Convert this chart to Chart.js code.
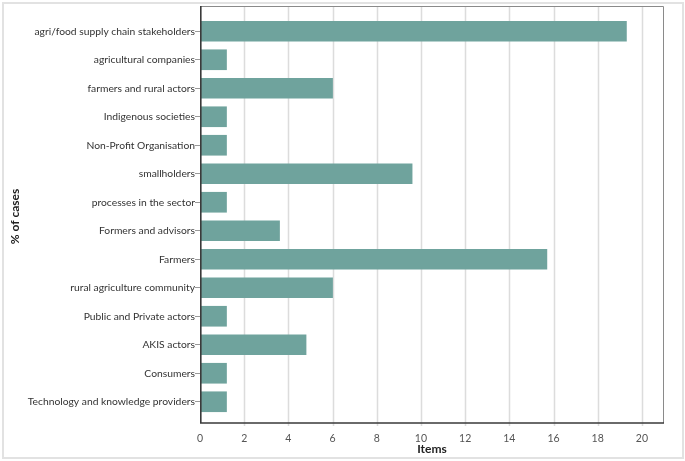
<!DOCTYPE html>
<html><head>
<meta charset="utf-8">
<script src="https://cdn.jsdelivr.net/npm/chart.js@4"></script>
<style>
html,body{margin:0;padding:0;background:#fff;}
#wrap{position:relative;width:685px;height:461px;}
#frame{position:absolute;left:2px;top:2px;width:678px;height:453px;border:2px solid #e2e2e2;box-sizing:content-box;pointer-events:none;}
canvas{position:absolute;left:0;top:0;}
</style>
</head><body>
<div id="wrap"><canvas id="c" width="685" height="461"></canvas><div id="frame"></div></div>
<script>
const categories = [
  "agri/food supply chain stakeholders",
  "agricultural companies",
  "farmers and rural actors",
  "Indigenous societies",
  "Non-Profit Organisation",
  "smallholders",
  "processes in the sector",
  "Formers and advisors",
  "Farmers",
  "rural agriculture community",
  "Public and Private actors",
  "AKIS actors",
  "Consumers",
  "Technology and knowledge providers"
];
const values = [19.3, 1.2, 6.0, 1.2, 1.2, 9.6, 1.2, 3.6, 15.7, 6.0, 1.2, 4.8, 1.2, 1.2];
const xTicks = [0, 2, 4, 6, 8, 10, 12, 14, 16, 18, 20];
const xMax = 21;
const xTitle = "Items";
const yTitle = "% of cases";

const FRAME_TOP_EXT = 11, FRAME_BOTTOM_EXT = 7;
const framePlugin = {
  id: 'framePlugin',
  beforeDatasetsDraw(chart) {
    const {ctx, chartArea: a, scales: {x}} = chart;
    const top = a.top - FRAME_TOP_EXT, bottom = a.bottom + FRAME_BOTTOM_EXT;
    ctx.save();
    ctx.strokeStyle = '#dcdcdc';
    ctx.lineWidth = 1.5;
    xTicks.forEach(v => {
      const px = Math.round(x.getPixelForValue(v)) + 0.5;
      if (v === 0) return;
      ctx.beginPath(); ctx.moveTo(px, top); ctx.lineTo(px, bottom + 3); ctx.stroke();
    });
    ctx.restore();
  },
  afterDatasetsDraw(chart) {
    const {ctx, chartArea: a} = chart;
    const top = a.top - FRAME_TOP_EXT, bottom = a.bottom + FRAME_BOTTOM_EXT;
    ctx.save();
    ctx.strokeStyle = '#8a8a8a';
    ctx.lineWidth = 1;
    ctx.beginPath();
    ctx.moveTo(a.left, top + 0.5); ctx.lineTo(a.right - 0.5, top + 0.5); ctx.lineTo(a.right - 0.5, bottom);
    ctx.stroke();
    ctx.strokeStyle = '#3a3a3a';
    ctx.lineWidth = 1.6;
    ctx.beginPath();
    ctx.moveTo(a.left + 0.8, top); ctx.lineTo(a.left + 0.8, bottom); ctx.lineTo(a.right, bottom);
    ctx.stroke();
    ctx.restore();
  }
};

new Chart(document.getElementById('c'), {
  type: 'bar',
  data: {
    labels: categories,
    datasets: [{
      data: values,
      backgroundColor: '#6fa39d',
      borderWidth: 0,
      barThickness: 20
    }]
  },
  options: {
    indexAxis: 'y',
    responsive: false,
    animation: false,
    devicePixelRatio: 1,
    layout: { padding: { left: 0, right: 21, top: 17, bottom: 0 } },
    plugins: { legend: { display: false }, tooltip: { enabled: false } },
    scales: {
      x: {
        type: 'linear',
        min: 0, max: xMax,
        afterBuildTicks(scale) { scale.ticks = xTicks.map(v => ({ value: v })); },
        afterFit(scale) { scale.height = 45; },
        grid: { display: false, drawTicks: false },
        border: { display: false },
        ticks: {
          padding: 16,
          color: '#555',
          font: { family: 'Lato', size: 10.5 },
          maxRotation: 0
        },
        title: {
          display: true, text: xTitle, color: '#222',
          font: { family: 'Lato', size: 12, weight: 'bold' },
          padding: { top: 0, bottom: 5 }
        }
      },
      y: {
        type: 'category',
        afterFit(scale) { scale.width = 200; },
        grid: { drawOnChartArea: false, drawTicks: true, tickLength: 5, offset: false, color: '#999' },
        border: { display: false },
        ticks: {
          padding: 0,
          color: '#333',
          font: { family: 'Lato', size: 10.3 }
        },
        title: {
          display: true, text: yTitle, color: '#222',
          font: { family: 'Lato', size: 12, weight: 'bold' },
          padding: { top: 8, bottom: 0 }
        }
      }
    }
  },
  plugins: [framePlugin]
});
</script>
</body></html>
